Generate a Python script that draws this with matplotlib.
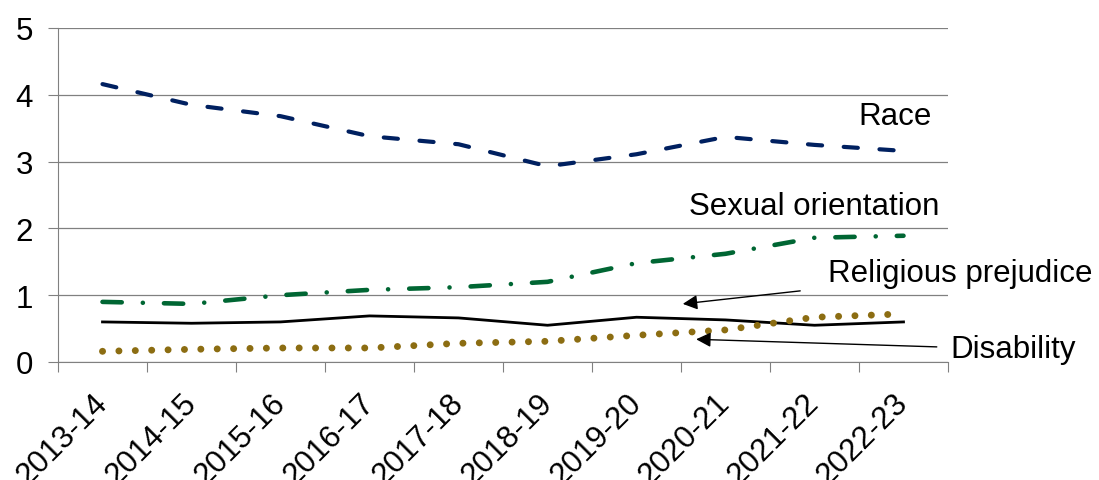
import numpy as np
import matplotlib
matplotlib.use("Agg")
import matplotlib.pyplot as plt

plt.rcParams['font.family'] = ['Liberation Sans', 'DejaVu Sans']

years = ["2013-14", "2014-15", "2015-16", "2016-17", "2017-18",
         "2018-19", "2019-20", "2020-21", "2021-22", "2022-23"]
race = [4.16, 3.85, 3.68, 3.38, 3.26, 2.93, 3.11, 3.37, 3.25, 3.16]
sexual_orientation = [0.90, 0.87, 1.00, 1.08, 1.12, 1.20, 1.48, 1.62, 1.86, 1.89]
religion = [0.60, 0.58, 0.60, 0.69, 0.66, 0.55, 0.67, 0.63, 0.55, 0.60]
disability = [0.16, 0.19, 0.21, 0.21, 0.28, 0.31, 0.40, 0.48, 0.67, 0.72]

x = np.arange(len(years))
fs = 22.5

fig = plt.figure(figsize=(10.99, 4.81), dpi=100)
ax = fig.add_axes([58 / 1099, 1 - 363 / 481, 890 / 1099, 334 / 481])

ax.plot(x, race, color="#002060", lw=3, dashes=(3.4, 5.2),
        dash_capstyle="round")
ax.plot(x, sexual_orientation, color="#006633", lw=3.3,
        dashes=(4.2, 4.6, 0.01, 4.6), dash_capstyle="round")
ax.plot(x, religion, color="black", lw=2)
ax.plot(x, disability, color="#8C6D12", lw=5, dashes=(0.01, 2.35),
        dash_capstyle="round")

ax.set_xlim(-0.5, len(years) - 0.5)
ax.set_ylim(0, 5)
ax.set_yticks(range(6))
ax.yaxis.grid(True, color="#808080", lw=0.9)
ax.set_axisbelow(True)

ax.set_xticks(np.arange(len(years) + 1) - 0.5)
ax.set_xticklabels([])
ax.set_xticks(x, minor=True)
ax.set_xticklabels(years, minor=True, rotation=45, ha="right",
                   va="center", rotation_mode="anchor", fontsize=fs)
ax.tick_params(axis="x", which="minor", length=0, pad=26)
ax.tick_params(axis="x", which="major", length=7, color="#808080",
               direction="out")
ax.tick_params(axis="y", length=7, color="#808080", labelsize=fs, pad=11)

for s in ["top", "right"]:
    ax.spines[s].set_visible(False)
for s in ["left", "bottom"]:
    ax.spines[s].set_color("#808080")

ax.text(8.9, 3.69, "Race", fontsize=fs, ha="center", va="center")
ax.text(8.0, 2.33, "Sexual orientation", fontsize=fs, ha="center",
        va="center")
ax.annotate("Religious prejudice", xy=(6.52, 0.87), xytext=(8.15, 1.33),
            fontsize=fs, ha="left", va="center", annotation_clip=False,
            arrowprops=dict(arrowstyle="-|>", color="black", lw=1,
                            mutation_scale=22, shrinkA=18, shrinkB=0))
ax.annotate("Disability", xy=(6.67, 0.34), xytext=(9.53, 0.19),
            fontsize=fs, ha="left", va="center", annotation_clip=False,
            arrowprops=dict(arrowstyle="-|>", color="black", lw=1,
                            mutation_scale=22, shrinkA=8, shrinkB=0))

fig.savefig("out.png", dpi=100)
